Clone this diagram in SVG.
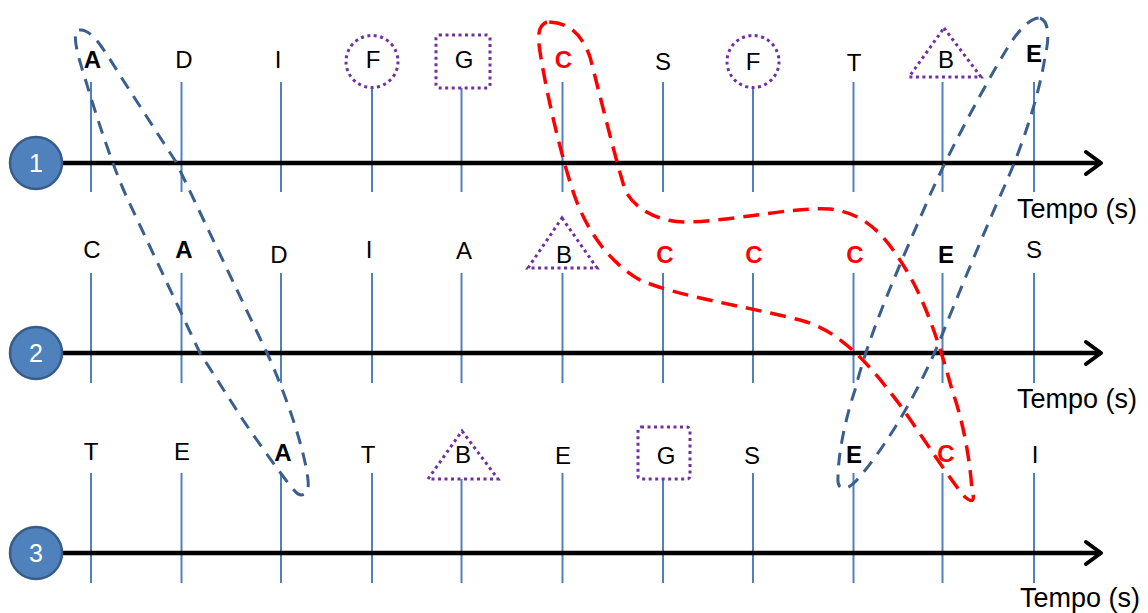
<svg xmlns="http://www.w3.org/2000/svg" width="1148" height="613" viewBox="0 0 1148 613">
  <defs>
    <marker id="arrow" viewBox="0 0 24 28" refX="19" refY="14" markerWidth="24" markerHeight="28" markerUnits="userSpaceOnUse" orient="auto" overflow="visible">
      <path d="M 4,3 L 19,14 L 4,25" fill="none" stroke="#000" stroke-width="4" stroke-linejoin="round" stroke-linecap="round"/>
    </marker>
  </defs>
  <style>
    .axis { stroke: #000; stroke-width: 4.5; fill: none; marker-end: url(#arrow); }
    .tick { stroke: #4F81BD; stroke-width: 2; }
    .badge { fill: #4F81BD; stroke: #385D8A; stroke-width: 2.5; }
    .num { font-family: "Liberation Sans", Arial, sans-serif; font-size: 25px; fill: #fff; text-anchor: middle; }
    .lbl { font-family: "Liberation Sans", Arial, sans-serif; font-size: 24px; fill: #000; text-anchor: middle; }
    .b { font-weight: bold; }
    .red { fill: #FF0000; font-weight: bold; }
    .unit { font-family: "Liberation Sans", Arial, sans-serif; font-size: 27px; fill: #000; }
    .mark { fill: none; stroke: #7030A0; stroke-width: 3; stroke-dasharray: 3 3.5; }
    .loop-blue { fill: none; stroke: #3A5F8C; stroke-width: 3; stroke-dasharray: 13 9; }
    .loop-red { fill: none; stroke: #FF0000; stroke-width: 3.5; stroke-dasharray: 16 9; }
  </style>
  <rect width="1148" height="613" fill="#fff"/>

  <!-- Sequence 1 -->
  <g id="row-1">
    <g class="ticks">
      <line class="tick" x1="91" y1="82" x2="91" y2="192"/>
      <line class="tick" x1="181.5" y1="82" x2="181.5" y2="192"/>
      <line class="tick" x1="281" y1="82" x2="281" y2="192"/>
      <line class="tick" x1="372" y1="88" x2="372" y2="192"/>
      <line class="tick" x1="461.5" y1="88" x2="461.5" y2="192"/>
      <line class="tick" x1="562.5" y1="82" x2="562.5" y2="192"/>
      <line class="tick" x1="663" y1="82" x2="663" y2="192"/>
      <line class="tick" x1="753" y1="88" x2="753" y2="192"/>
      <line class="tick" x1="853.5" y1="82" x2="853.5" y2="192"/>
      <line class="tick" x1="942.5" y1="82" x2="942.5" y2="192"/>
      <line class="tick" x1="1034" y1="82" x2="1034" y2="192"/>
    </g>
    <line class="axis" x1="63" y1="163" x2="1101" y2="163"/>
    <circle class="badge" cx="36" cy="163" r="26"/>
    <text class="num" x="36" y="172">1</text>
    <circle class="mark" cx="372" cy="61.5" r="26"/>
    <rect class="mark" x="436" y="35" width="54" height="53" rx="3"/>
    <circle class="mark" cx="753" cy="61.5" r="26"/>
    <polygon class="mark" points="944,28 981,77 909,77"/>
    <text class="lbl b" x="92.5" y="68">A</text>
    <text class="lbl" x="184" y="68">D</text>
    <text class="lbl" x="278" y="68">I</text>
    <text class="lbl" x="373" y="68">F</text>
    <text class="lbl" x="464" y="68">G</text>
    <text class="lbl red" x="563.5" y="68">C</text>
    <text class="lbl" x="663" y="70">S</text>
    <text class="lbl" x="753" y="70">F</text>
    <text class="lbl" x="854" y="71">T</text>
    <text class="lbl" x="946" y="68">B</text>
    <text class="lbl b" x="1034" y="62">E</text>
    <text class="unit" x="1017" y="218">Tempo (s)</text>
  </g>

  <!-- Sequence 2 -->
  <g id="row-2">
    <g class="ticks">
      <line class="tick" x1="91" y1="273" x2="91" y2="383"/>
      <line class="tick" x1="181.5" y1="273" x2="181.5" y2="383"/>
      <line class="tick" x1="281" y1="273" x2="281" y2="383"/>
      <line class="tick" x1="372" y1="273" x2="372" y2="383"/>
      <line class="tick" x1="461.5" y1="273" x2="461.5" y2="383"/>
      <line class="tick" x1="562.5" y1="273" x2="562.5" y2="383"/>
      <line class="tick" x1="663" y1="273" x2="663" y2="383"/>
      <line class="tick" x1="753" y1="273" x2="753" y2="383"/>
      <line class="tick" x1="853.5" y1="273" x2="853.5" y2="383"/>
      <line class="tick" x1="942.5" y1="273" x2="942.5" y2="383"/>
      <line class="tick" x1="1034" y1="273" x2="1034" y2="383"/>
    </g>
    <line class="axis" x1="63" y1="353" x2="1101" y2="353"/>
    <circle class="badge" cx="36" cy="353" r="26"/>
    <text class="num" x="36" y="362">2</text>
    <polygon class="mark" points="562,218 597,268 528,268"/>
    <text class="lbl" x="92" y="258">C</text>
    <text class="lbl b" x="184" y="258">A</text>
    <text class="lbl" x="279" y="263">D</text>
    <text class="lbl" x="369" y="258">I</text>
    <text class="lbl" x="464" y="259">A</text>
    <text class="lbl" x="564" y="263">B</text>
    <text class="lbl red" x="665" y="263">C</text>
    <text class="lbl red" x="754" y="263">C</text>
    <text class="lbl red" x="855" y="263">C</text>
    <text class="lbl b" x="946" y="263">E</text>
    <text class="lbl" x="1034" y="258">S</text>
    <text class="unit" x="1017" y="408">Tempo (s)</text>
  </g>

  <!-- Sequence 3 -->
  <g id="row-3">
    <g class="ticks">
      <line class="tick" x1="91" y1="473" x2="91" y2="583"/>
      <line class="tick" x1="181.5" y1="473" x2="181.5" y2="583"/>
      <line class="tick" x1="281" y1="473" x2="281" y2="583"/>
      <line class="tick" x1="372" y1="473" x2="372" y2="583"/>
      <line class="tick" x1="461.5" y1="479" x2="461.5" y2="583"/>
      <line class="tick" x1="562.5" y1="473" x2="562.5" y2="583"/>
      <line class="tick" x1="663" y1="479" x2="663" y2="583"/>
      <line class="tick" x1="753" y1="473" x2="753" y2="583"/>
      <line class="tick" x1="853.5" y1="473" x2="853.5" y2="583"/>
      <line class="tick" x1="942.5" y1="473" x2="942.5" y2="583"/>
      <line class="tick" x1="1034" y1="473" x2="1034" y2="583"/>
    </g>
    <line class="axis" x1="63" y1="553" x2="1101" y2="553"/>
    <circle class="badge" cx="36" cy="553" r="26"/>
    <text class="num" x="36" y="562">3</text>
    <polygon class="mark" points="462,431 498,479 428,479"/>
    <rect class="mark" x="638" y="427" width="52" height="52" rx="3"/>
    <text class="lbl" x="91" y="460">T</text>
    <text class="lbl" x="182" y="460">E</text>
    <text class="lbl b" x="283" y="461">A</text>
    <text class="lbl" x="368" y="463">T</text>
    <text class="lbl" x="463" y="463">B</text>
    <text class="lbl" x="563" y="464">E</text>
    <text class="lbl" x="666" y="464">G</text>
    <text class="lbl" x="752" y="464">S</text>
    <text class="lbl b" x="854" y="463">E</text>
    <text class="lbl red" x="946" y="462">C</text>
    <text class="lbl" x="1035" y="463">I</text>
    <text class="unit" x="1020" y="607">Tempo (s)</text>
  </g>

  <!-- Selection loops linking matching events across sequences -->
  <g id="loops">
    <path id="loop-a" class="loop-blue" d="M 79,30 C 92,28 104,50 123,80 L 176,162 L 267,353 C 285,392 305,450 308,480 C 310,497 300,498 294,490 C 288,484 260,445 243,420 L 200,353 L 128,200 C 112,165 96,115 84,75 C 76,50 72,32 79,30 Z"/>
    <path id="loop-c" class="loop-red" d="M 547,22 C 536,26 538,40 541,58 C 548,100 562,160 575,197 C 585,225 605,260 640,280 C 680,297 740,305 800,320 C 840,330 870,365 900,405 C 925,440 950,480 965,497 C 975,505 974,498 972,490 C 970,460 963,420 952,390 C 940,345 925,300 905,268 C 885,235 865,213 830,209 C 790,207 740,220 690,222 C 660,223 635,210 625,190 C 613,150 600,95 590,57 C 582,35 570,22 547,22 Z"/>
    <path id="loop-e" class="loop-blue" d="M 1040,18 C 1050,22 1049,40 1045,57 C 1040,90 1025,140 1005,185 C 985,230 960,290 940,340 C 915,400 880,455 855,482 C 845,492 837,490 838,478 C 838,455 845,420 855,390 C 870,330 900,265 930,195 C 950,150 985,85 1005,52 C 1015,35 1028,18 1040,18 Z"/>
  </g>
</svg>
